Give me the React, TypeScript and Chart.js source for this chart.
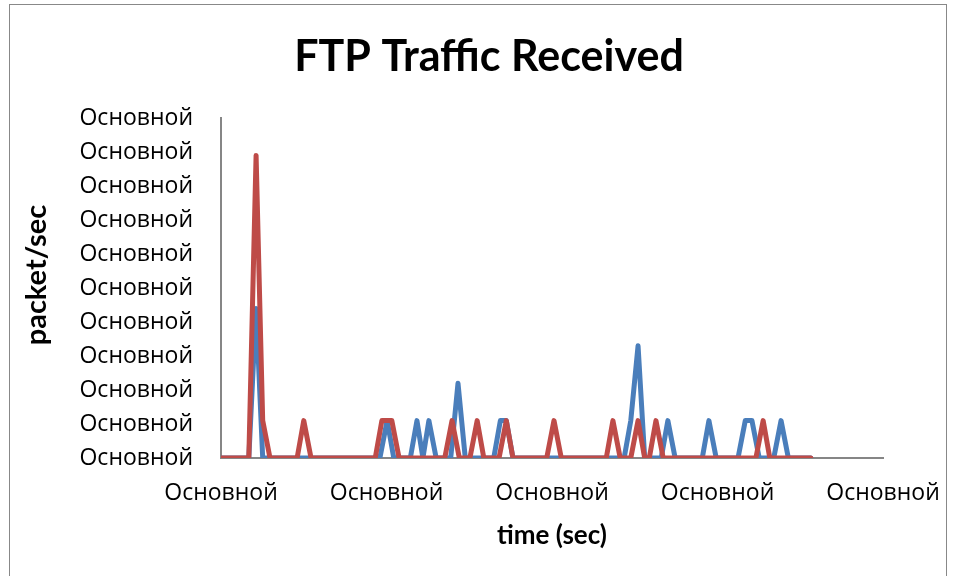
import React, { useEffect, useRef } from "react";
import { Chart, registerables } from "chart.js";

Chart.register(...registerables);

const TITLE = "FTP Traffic Received";
const X_TITLE = "time (sec)";
const Y_TITLE = "packet/sec";
const TICK_LABEL = "Основной";

// time axis ticks / value axis ticks (labels are all the same text in the source)
const xTicks = [0, 25, 50, 75, 100];
const yTicks = [0, 1, 2, 3, 4, 5, 6, 7, 8, 9, 10];

const blueTimes = [
  0, 4.2, 5.3, 6.3,
  24.0, 25.1, 26.1,
  28.6, 29.6, 30.5, 31.4, 32.5,
  34.7, 35.8, 36.9,
  41.2, 42.2, 43.1, 44.1,
  60.9, 61.9, 63.0, 64.0,
  66.5, 67.5, 68.6,
  72.7, 73.7, 74.8,
  78.1, 79.2, 80.2, 81.3,
  83.5, 84.6, 85.7,
  89.1,
];
const blueValues = [
  0, 0, 4.4, 0,
  0, 1.1, 0,
  0, 1.1, 0, 1.1, 0,
  0, 2.2, 0,
  0, 1.1, 1.1, 0,
  0, 1.1, 3.3, 0,
  0, 1.1, 0,
  0, 1.1, 0,
  0, 1.1, 1.1, 0,
  0, 1.1, 0,
  0,
];

const redTimes = [
  0, 4.2, 5.3, 6.3, 7.4,
  11.5, 12.5, 13.6,
  23.3, 24.3, 25.8, 26.9,
  33.8, 34.9, 36.0,
  37.6, 38.7, 39.7,
  42.0, 43.1, 44.1,
  49.2, 50.3, 51.4,
  58.2, 59.2, 60.3,
  61.9, 63.0, 64.0,
  64.7, 65.7, 66.8,
  80.8, 81.9, 82.9,
  89.1,
];
const redValues = [
  0, 0, 8.9, 1.1, 0,
  0, 1.1, 0,
  0, 1.1, 1.1, 0,
  0, 1.1, 0,
  0, 1.1, 0,
  0, 1.1, 0,
  0, 1.1, 0,
  0, 1.1, 0,
  0, 1.1, 0,
  0, 1.1, 0,
  0, 1.1, 0,
  0,
];

const BLUE = "#4A7EBB";
const RED = "#BE4B48";
const AXIS = "#868686";

const LABEL_FONT = "'Open Sans', 'Noto Sans', sans-serif";
const BOLD_FONT = "Lato, 'Open Sans', sans-serif";

const yTitlePlugin = {
  id: "yTitleText",
  afterDraw(chart: any) {
    const ctx = chart.ctx;
    ctx.save();
    ctx.font = `bold 29px ${BOLD_FONT}`;
    ctx.fillStyle = "#000";
    ctx.textAlign = "center";
    ctx.textBaseline = "middle";
    ctx.translate(37, 275);
    ctx.rotate(-Math.PI / 2);
    ctx.fillText(Y_TITLE, 0, 0);
    ctx.restore();
  },
};

export default function App() {
  const ref = useRef<HTMLCanvasElement | null>(null);

  useEffect(() => {
    if (!ref.current) return;
    const toPts = (ts: number[], vs: number[]) => ts.map((t, i) => ({ x: t, y: vs[i] }));
    const chart = new Chart(ref.current, {
      type: "line",
      data: {
        datasets: [
          {
            label: "Series 1",
            data: toPts(blueTimes, blueValues),
            borderColor: BLUE,
            backgroundColor: BLUE,
            borderWidth: 5,
            pointRadius: 0,
            tension: 0,
            borderJoinStyle: "round",
            borderCapStyle: "round",
            order: 2,
          },
          {
            label: "Series 2",
            data: toPts(redTimes, redValues),
            borderColor: RED,
            backgroundColor: RED,
            borderWidth: 5,
            pointRadius: 0,
            tension: 0,
            borderJoinStyle: "round",
            borderCapStyle: "round",
            order: 1,
          },
        ],
      },
      plugins: [yTitlePlugin],
      options: {
        responsive: false,
        animation: false,
        devicePixelRatio: 1,
        layout: { padding: { left: 22, right: 0, top: 0, bottom: 0 } },
        plugins: {
          legend: { display: false },
          tooltip: { enabled: false },
          title: {
            display: true,
            text: TITLE,
            color: "#000",
            font: { family: BOLD_FONT, size: 43, weight: "bold" },
            padding: { top: 31, bottom: 35.4 },
          },
        },
        scales: {
          x: {
            type: "linear",
            min: xTicks[0],
            max: xTicks[xTicks.length - 1],
            afterBuildTicks: (s: any) => {
              s.ticks = xTicks.map((v) => ({ value: v }));
            },
            afterFit: (s: any) => {
              s.height = 118;
              s.paddingLeft = 0;
              s.paddingRight = 0;
            },
            grid: { drawOnChartArea: false, drawTicks: false },
            border: { display: true, color: AXIS, width: 2 },
            ticks: {
              autoSkip: false,
              maxRotation: 0,
              padding: 22,
              color: "#000",
              font: { family: LABEL_FONT, size: 23 },
              callback: () => TICK_LABEL,
            },
            title: {
              display: true,
              text: X_TITLE,
              color: "#000",
              font: { family: BOLD_FONT, size: 26, weight: "bold" },
              padding: { top: 0, bottom: 25 },
            },
          },
          y: {
            type: "linear",
            min: yTicks[0],
            max: yTicks[yTicks.length - 1],
            afterBuildTicks: (s: any) => {
              s.ticks = yTicks.map((v) => ({ value: v }));
            },
            afterFit: (s: any) => {
              s.width = 199;
            },
            grid: { drawOnChartArea: false, drawTicks: false },
            border: { display: true, color: AXIS, width: 2 },
            ticks: {
              autoSkip: false,
              padding: 28,
              color: "#000",
              font: { family: LABEL_FONT, size: 23 },
              callback: () => TICK_LABEL,
            },
            title: { display: false },
          },
          yRight: {
            type: "linear",
            position: "right",
            min: 0,
            max: 1,
            afterFit: (s: any) => {
              s.width = 73;
            },
            grid: { display: false, drawTicks: false },
            border: { display: false },
            ticks: { display: false },
          },
        },
      },
    });
    return () => chart.destroy();
  }, []);

  return (
    <div style={{ position: "absolute", left: 0, top: 0, width: 956, height: 576, background: "#fff", overflow: "hidden" }}>
      <div
        style={{
          position: "absolute",
          left: 9,
          top: 4,
          width: 938,
          height: 620,
          border: "1px solid #888",
          boxSizing: "border-box",
        }}
      />
      <canvas ref={ref} width={956} height={576} style={{ position: "absolute", left: 0, top: 0, width: 956, height: 576 }} />
    </div>
  );
}
